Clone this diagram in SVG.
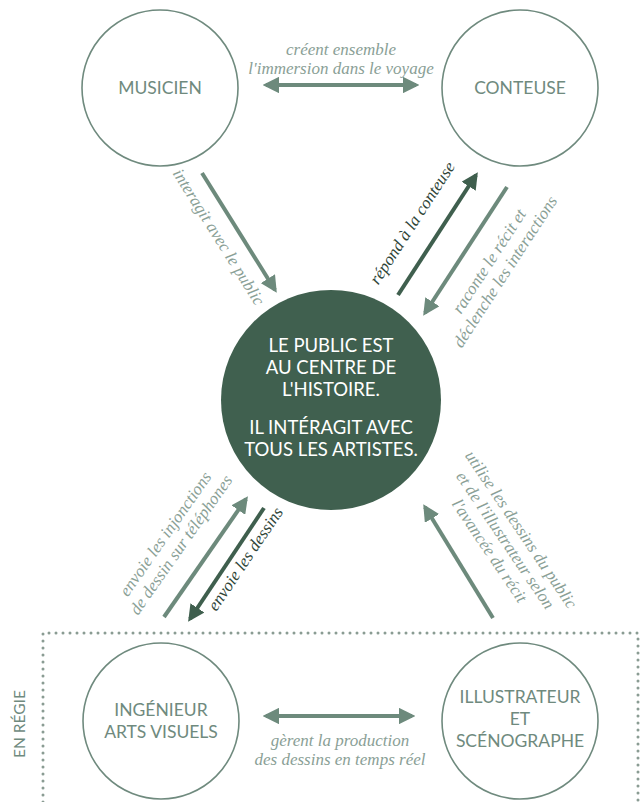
<svg xmlns="http://www.w3.org/2000/svg" width="642" height="802" viewBox="0 0 642 802">
<style>
.node{fill:none;stroke:#6f8a7e;stroke-width:1.6}
.nlabel{font-family:Lato,"Open Sans",sans-serif;font-size:17.5px;fill:#6f8a7e;text-anchor:middle}
.clabel{font-family:Lato,"Open Sans",sans-serif;font-size:18.5px;fill:#ffffff;text-anchor:middle}
.lt{font-family:"Liberation Serif",serif;font-style:italic;font-size:17px;fill:#8aa096;text-anchor:middle}
.dk{font-family:"Liberation Serif",serif;font-style:italic;font-size:17px;fill:#2f4538;text-anchor:middle}
.al{stroke:#6d8a7c;stroke-width:4;fill:none}
.ad{stroke:#3f5f4e;stroke-width:4;fill:none}
</style>
<defs>
<marker id="hl" viewBox="0 0 10 10" refX="8" refY="5" markerWidth="4.2" markerHeight="4.2" orient="auto-start-reverse" markerUnits="strokeWidth"><path d="M0,0 L10,5 L0,10 z" fill="#6d8a7c"/></marker>
<marker id="hd" viewBox="0 0 10 10" refX="8" refY="5" markerWidth="4.2" markerHeight="4.2" orient="auto-start-reverse" markerUnits="strokeWidth"><path d="M0,0 L10,5 L0,10 z" fill="#3f5f4e"/></marker>
</defs>
<rect width="642" height="802" fill="#ffffff"/>

<g id="regie">
<path d="M43,802 L43,633 L638,633 L638,802" fill="none" stroke="#8a9c93" stroke-width="3" stroke-linecap="round" stroke-dasharray="0 7"/>
<text transform="translate(25,724) rotate(-90)" class="nlabel" style="font-size:15.5px">EN RÉGIE</text>
</g>

<g id="musicien"><circle class="node" cx="160" cy="88" r="78"/><text class="nlabel" x="160" y="94">MUSICIEN</text></g>
<g id="conteuse"><circle class="node" cx="520" cy="88" r="78"/><text class="nlabel" x="520" y="94">CONTEUSE</text></g>
<g id="public"><circle cx="331" cy="400" r="110" fill="#40604f"/>
<text class="clabel" x="331" y="352">LE PUBLIC EST</text>
<text class="clabel" x="331" y="374">AU CENTRE DE</text>
<text class="clabel" x="331" y="396">L'HISTOIRE.</text>
<text class="clabel" x="331" y="434">IL INTÉRAGIT AVEC</text>
<text class="clabel" x="331" y="456">TOUS LES ARTISTES.</text>
</g>
<g id="ingenieur"><circle class="node" cx="161" cy="721" r="78"/><text class="nlabel" x="161" y="716">INGÉNIEUR</text><text class="nlabel" x="161" y="738">ARTS VISUELS</text></g>
<g id="illustrateur"><circle class="node" cx="520" cy="721" r="78"/><text class="nlabel" x="520" y="703">ILLUSTRATEUR</text><text class="nlabel" x="520" y="725">ET</text><text class="nlabel" x="520" y="747">SCÉNOGRAPHE</text></g>

<g id="connectors">
<line class="al" x1="266" y1="85" x2="416" y2="85" marker-start="url(#hl)" marker-end="url(#hl)"/>
<text class="lt" x="341" y="55">créent ensemble</text>
<text class="lt" x="341" y="74">l'immersion dans le voyage</text>

<line class="al" x1="202" y1="173" x2="275" y2="290" marker-end="url(#hl)"/>
<text class="lt" transform="translate(214,240) rotate(58)">interagit avec le public</text>

<line class="ad" x1="398" y1="295" x2="476" y2="175" marker-end="url(#hd)"/>
<text class="dk" transform="translate(417,226) rotate(-57)">répond à la conteuse</text>

<line class="al" x1="507" y1="187" x2="425" y2="313" marker-end="url(#hl)"/>
<g transform="translate(498,267) rotate(-57)">
<text class="lt" x="0" y="-5">raconte le récit et</text>
<text class="lt" x="0" y="14">déclenche les interactions</text>
</g>

<line class="al" x1="164" y1="617" x2="246" y2="499" marker-end="url(#hl)"/>
<g transform="translate(174,540) rotate(-55)">
<text class="lt" x="0" y="-5">envoie les injonctions</text>
<text class="lt" x="0" y="14">de dessin sur téléphones</text>
</g>

<line class="ad" x1="264" y1="508" x2="190" y2="619" marker-end="url(#hd)"/>
<text class="dk" transform="translate(250,562) rotate(-56)">envoie les dessins</text>

<line class="al" x1="493" y1="618" x2="425" y2="507" marker-end="url(#hl)"/>
<g transform="translate(504,541) rotate(56)">
<text class="lt" x="0" y="-15">utilise les dessins du public</text>
<text class="lt" x="0" y="4">et de l'illustrateur selon</text>
<text class="lt" x="0" y="23">l'avancée du récit</text>
</g>

<line class="al" x1="266" y1="716" x2="412" y2="716" marker-start="url(#hl)" marker-end="url(#hl)"/>
<text class="lt" x="340" y="746">gèrent la production</text>
<text class="lt" x="340" y="765">des dessins  en temps réel</text>
</g>
</svg>
